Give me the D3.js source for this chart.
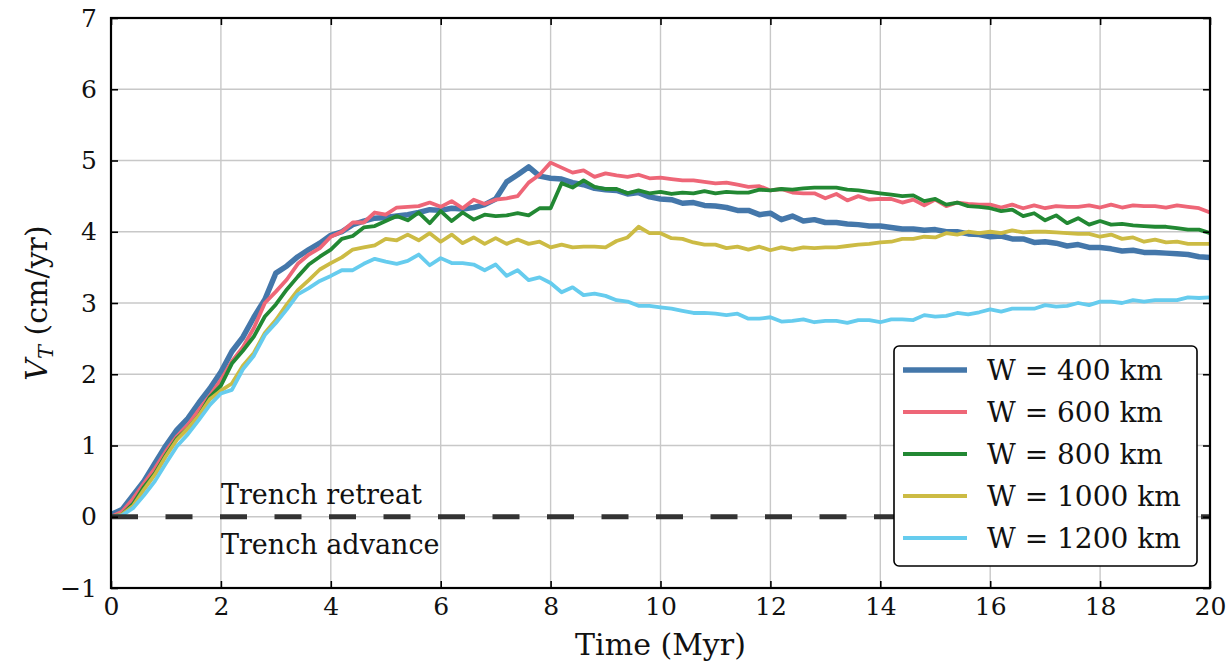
<!DOCTYPE html>
<html>
<head>
<meta charset="utf-8">
<script src="https://cdn.jsdelivr.net/npm/d3@7"></script>
<style>
  body { margin: 0; background: #fff; }
  svg text { font-family: "DejaVu Serif", serif; fill: #111; }
</style>
</head>
<body>
<div id="chart"></div>
<script>
// time axis (Myr)
const time = [
  0, 0.2, 0.4, 0.6, 0.8, 1, 1.2, 1.4, 1.6, 1.8,
  2, 2.2, 2.4, 2.6, 2.8, 3, 3.2, 3.4, 3.6, 3.8,
  4, 4.2, 4.4, 4.6, 4.8, 5, 5.2, 5.4, 5.6, 5.8,
  6, 6.2, 6.4, 6.6, 6.8, 7, 7.2, 7.4, 7.6, 7.8,
  8, 8.2, 8.4, 8.6, 8.8, 9, 9.2, 9.4, 9.6, 9.8,
  10, 10.2, 10.4, 10.6, 10.8, 11, 11.2, 11.4, 11.6, 11.8,
  12, 12.2, 12.4, 12.6, 12.8, 13, 13.2, 13.4, 13.6, 13.8,
  14, 14.2, 14.4, 14.6, 14.8, 15, 15.2, 15.4, 15.6, 15.8,
  16, 16.2, 16.4, 16.6, 16.8, 17, 17.2, 17.4, 17.6, 17.8,
  18, 18.2, 18.4, 18.6, 18.8, 19, 19.2, 19.4, 19.6, 19.8,
  20
];

// trench velocity (cm/yr) per slab width
const w400 = [
  0.03, 0.1, 0.3, 0.5, 0.75, 1.0, 1.22, 1.38, 1.6, 1.8,
  2.03, 2.32, 2.52, 2.8, 3.05, 3.42, 3.52, 3.65, 3.75, 3.84,
  3.95, 4.0, 4.1, 4.15, 4.19, 4.2, 4.22, 4.24, 4.27, 4.31,
  4.3, 4.33, 4.32, 4.34, 4.38, 4.46, 4.7, 4.8, 4.91, 4.78,
  4.75, 4.74, 4.69, 4.66, 4.61, 4.59, 4.58, 4.53, 4.55, 4.49,
  4.46, 4.45, 4.4, 4.41, 4.37, 4.36, 4.34, 4.3, 4.3, 4.24,
  4.26, 4.17, 4.22, 4.15, 4.17, 4.13, 4.13, 4.11, 4.1, 4.08,
  4.08, 4.06, 4.04, 4.04, 4.02, 4.03, 4.0, 4.0, 3.97, 3.96,
  3.93, 3.94, 3.9, 3.9, 3.85, 3.86, 3.84, 3.8, 3.82, 3.78,
  3.78, 3.76, 3.73, 3.74, 3.71, 3.71, 3.7, 3.69, 3.68, 3.65,
  3.64
];
const w600 = [
  0.0, 0.07, 0.25, 0.47, 0.68, 0.92, 1.13, 1.29, 1.5, 1.7,
  1.92, 2.18, 2.38, 2.65, 3.0, 3.16, 3.33, 3.55, 3.68, 3.77,
  3.93, 4.0, 4.13, 4.13, 4.27, 4.24, 4.34, 4.35, 4.36, 4.41,
  4.35, 4.43, 4.33, 4.45, 4.39, 4.45, 4.47, 4.5, 4.69, 4.8,
  4.97, 4.9, 4.83, 4.86, 4.77, 4.82, 4.79, 4.77, 4.8, 4.75,
  4.76, 4.74, 4.72, 4.72, 4.7, 4.68, 4.69, 4.66, 4.63, 4.64,
  4.58, 4.6, 4.55, 4.54, 4.54, 4.47, 4.53, 4.44, 4.5, 4.45,
  4.46, 4.46, 4.41, 4.45, 4.37, 4.45, 4.36, 4.41, 4.39, 4.38,
  4.38, 4.34, 4.38, 4.33, 4.37, 4.33, 4.36, 4.35, 4.35, 4.37,
  4.34, 4.38, 4.34, 4.37, 4.36, 4.36, 4.34, 4.37, 4.35, 4.33,
  4.27
];
const w800 = [
  0.0, 0.03, 0.18, 0.42, 0.61, 0.87, 1.1, 1.24, 1.42, 1.68,
  1.84, 2.15, 2.33, 2.53, 2.81, 2.98, 3.19, 3.37, 3.54, 3.65,
  3.75, 3.9, 3.94, 4.06, 4.08, 4.15, 4.22, 4.16, 4.27, 4.12,
  4.29, 4.15, 4.27, 4.17, 4.24, 4.22, 4.23, 4.26, 4.23, 4.33,
  4.33, 4.68, 4.62, 4.72, 4.63, 4.6, 4.6, 4.54, 4.58, 4.54,
  4.56, 4.53, 4.55, 4.54, 4.57, 4.54, 4.56, 4.55, 4.55, 4.59,
  4.58, 4.6, 4.59, 4.61, 4.62, 4.62, 4.62, 4.59, 4.58, 4.56,
  4.54, 4.52, 4.5, 4.51, 4.43, 4.46, 4.38, 4.41, 4.36, 4.35,
  4.33, 4.29, 4.31, 4.22, 4.26, 4.16, 4.23, 4.12, 4.19, 4.1,
  4.15, 4.1, 4.11, 4.09, 4.08, 4.07, 4.07, 4.05, 4.03, 4.03,
  3.98
];
const w1000 = [
  0.0, 0.03, 0.15, 0.38, 0.59, 0.85, 1.08, 1.24, 1.42, 1.65,
  1.77, 1.87, 2.12, 2.3, 2.58, 2.76, 2.98, 3.18, 3.32, 3.47,
  3.56, 3.64, 3.75, 3.78, 3.81, 3.9, 3.88, 3.96, 3.88, 3.98,
  3.86, 3.96, 3.84, 3.92, 3.83, 3.91, 3.83, 3.89, 3.83, 3.86,
  3.78, 3.82, 3.78, 3.79, 3.79, 3.78, 3.87, 3.92, 4.07, 3.98,
  3.98, 3.91, 3.9, 3.85, 3.82, 3.82, 3.77, 3.79, 3.75, 3.79,
  3.74, 3.78, 3.75, 3.78, 3.77, 3.78, 3.78, 3.8, 3.82, 3.83,
  3.85, 3.86, 3.9, 3.9, 3.93, 3.92, 3.98, 3.96, 4.0, 3.98,
  4.0, 3.98, 4.02, 3.99, 4.0, 4.0, 3.99, 3.98, 3.97, 3.97,
  3.93, 3.96, 3.9, 3.92, 3.86, 3.89, 3.85, 3.86, 3.83, 3.83,
  3.83
];
const w1200 = [
  0.0, 0.02, 0.12, 0.3, 0.5, 0.75, 0.99, 1.16, 1.36, 1.57,
  1.73, 1.78, 2.07, 2.26, 2.55, 2.72, 2.91, 3.12, 3.21, 3.31,
  3.38, 3.46, 3.46, 3.55, 3.62, 3.58, 3.55, 3.59, 3.68, 3.53,
  3.63, 3.56, 3.56, 3.54, 3.46, 3.54, 3.38, 3.46, 3.32, 3.36,
  3.28, 3.15, 3.22, 3.11, 3.13, 3.1, 3.04, 3.02, 2.96, 2.96,
  2.94, 2.92, 2.89, 2.86, 2.86, 2.85, 2.83, 2.85, 2.78, 2.78,
  2.8, 2.74, 2.75, 2.77, 2.73, 2.75, 2.75, 2.72, 2.76, 2.76,
  2.73, 2.77, 2.77, 2.76, 2.83, 2.81, 2.82, 2.86, 2.84, 2.87,
  2.91, 2.88, 2.92, 2.92, 2.92, 2.97, 2.95, 2.96, 3.0, 2.97,
  3.02, 3.02, 3.0, 3.04, 3.02, 3.04, 3.04, 3.04, 3.08, 3.07,
  3.08
];

const series_names = ["W = 400 km", "W = 600 km", "W = 800 km", "W = 1000 km", "W = 1200 km"];
const series_values = [w400, w600, w800, w1000, w1200];
const series_colors = ["#4477aa", "#ee6677", "#228833", "#ccbb44", "#66ccee"];
const series_widths = [5.5, 3.8, 3.8, 3.8, 3.8];

const x_ticks = [0, 2, 4, 6, 8, 10, 12, 14, 16, 18, 20];
const y_ticks = [-1, 0, 1, 2, 3, 4, 5, 6, 7];

const width = 1229, height = 665;
const margin = { top: 18, right: 19, bottom: 77, left: 111 };
const inner_w = width - margin.left - margin.right,
  inner_h = height - margin.top - margin.bottom;

const svg = d3
  .select("#chart")
  .append("svg")
  .attr("width", width)
  .attr("height", height);

const g = svg.append("g").attr("transform", `translate(${margin.left},${margin.top})`);

const x = d3.scaleLinear().domain([0, 20]).range([0, inner_w]);
const y = d3.scaleLinear().domain([-1, 7]).range([inner_h, 0]);

// grid
g.append("g")
  .selectAll("line")
  .data(x_ticks)
  .enter()
  .append("line")
  .attr("x1", (d) => x(d))
  .attr("x2", (d) => x(d))
  .attr("y1", 0)
  .attr("y2", inner_h)
  .style("stroke", "#c8c8c8")
  .style("stroke-width", 1.4);
g.append("g")
  .selectAll("line")
  .data(y_ticks)
  .enter()
  .append("line")
  .attr("x1", 0)
  .attr("x2", inner_w)
  .attr("y1", (d) => y(d))
  .attr("y2", (d) => y(d))
  .style("stroke", "#c8c8c8")
  .style("stroke-width", 1.4);

// series lines
const line = d3
  .line()
  .x((d) => x(d[0]))
  .y((d) => y(d[1]));

series_values.forEach((vals, i) => {
  const pts = time.map((t, j) => [t, vals[j]]);
  g.append("path")
    .datum(pts)
    .attr("d", line)
    .style("fill", "none")
    .style("stroke", series_colors[i])
    .style("stroke-width", series_widths[i])
    .style("stroke-linejoin", "round");
});

// zero line
g.append("line")
  .attr("x1", 0)
  .attr("x2", inner_w)
  .attr("y1", y(0))
  .attr("y2", y(0))
  .style("stroke", "#333")
  .style("stroke-width", 5)
  .style("stroke-dasharray", "27,27.5");

g.append("text")
  .attr("x", x(2))
  .attr("y", y(0) - 13)
  .style("font-size", "27px")
  .text("Trench retreat");
g.append("text")
  .attr("x", x(2))
  .attr("y", y(0) + 37)
  .style("font-size", "27px")
  .text("Trench advance");

// axes with inward ticks on all sides
const tick_len = 7;
const ax_bottom = g.append("g")
  .attr("transform", `translate(0,${inner_h})`)
  .call(d3.axisBottom(x).tickValues(x_ticks).tickSizeInner(-tick_len).tickSizeOuter(0).tickPadding(9));
const ax_top = g.append("g")
  .call(d3.axisTop(x).tickValues(x_ticks).tickSizeInner(-tick_len).tickSizeOuter(0).tickFormat(""));
const ax_left = g.append("g")
  .call(d3.axisLeft(y).tickValues(y_ticks).tickSizeInner(-tick_len).tickSizeOuter(0).tickPadding(14)
    .tickFormat((d) => (d < 0 ? "\u2212" + Math.abs(d) : d)));
const ax_right = g.append("g")
  .attr("transform", `translate(${inner_w},0)`)
  .call(d3.axisRight(y).tickValues(y_ticks).tickSizeInner(-tick_len).tickSizeOuter(0).tickFormat(""));

[ax_bottom, ax_top, ax_left, ax_right].forEach((ax) => {
  ax.select(".domain").remove();
  ax.selectAll(".tick line").style("stroke", "#000").style("stroke-width", 1.6);
  ax.selectAll("text").style("font-family", "DejaVu Serif").style("font-size", "25px").style("fill", "#111");
});

// frame
g.append("rect")
  .attr("width", inner_w)
  .attr("height", inner_h)
  .style("fill", "none")
  .style("stroke", "#000")
  .style("stroke-width", 2.2);

// axis titles
svg.append("text")
  .attr("x", margin.left + inner_w / 2)
  .attr("y", 655)
  .attr("text-anchor", "middle")
  .style("font-size", "30px")
  .text("Time (Myr)");

const ylab = svg.append("text")
  .attr("transform", `translate(47,${margin.top + inner_h / 2}) rotate(-90)`)
  .attr("text-anchor", "middle")
  .style("font-size", "30px");
ylab.append("tspan").style("font-style", "italic").text("V");
ylab.append("tspan").style("font-style", "italic").style("font-size", "21px").attr("dy", 6).text("T");
ylab.append("tspan").attr("dy", -6).text(" (cm/yr)");

// legend
const leg = svg.append("g").attr("transform", "translate(894,346)");
leg.append("rect")
  .attr("width", 303)
  .attr("height", 220)
  .attr("rx", 5)
  .style("fill", "#fff")
  .style("stroke", "#000")
  .style("stroke-width", 1.6);
series_names.forEach((name, i) => {
  const ly = 24 + i * 42;
  leg.append("line")
    .attr("x1", 9)
    .attr("x2", 73)
    .attr("y1", ly)
    .attr("y2", ly)
    .style("stroke", series_colors[i])
    .style("stroke-width", series_widths[i]);
  leg.append("text")
    .attr("x", 93)
    .attr("y", ly + 10)
    .style("font-size", "28px")
    .text(name);
});
</script>
</body>
</html>
